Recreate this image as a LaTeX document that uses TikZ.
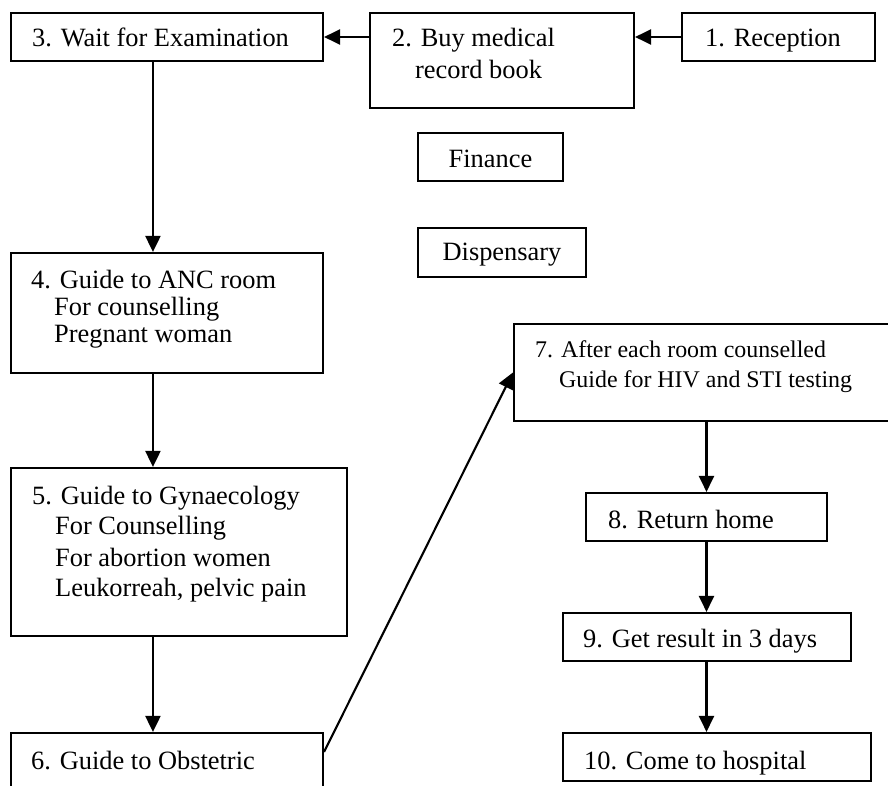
\documentclass[tikz,border=0pt]{standalone}
\usepackage{fontspec}
\setmainfont{Liberation Serif}
\usetikzlibrary{arrows.meta}

\tikzset{
  box/.style={draw, rectangle, line width=2.1bp, inner sep=0pt},
  lbl/.style={anchor=base west, inner sep=0pt, font=\fontsize{26.5pt}{30pt}\selectfont},
  lblsm/.style={lbl, font=\fontsize{24pt}{28pt}\selectfont},
  lblc/.style={lbl, anchor=base},
  arr/.style={line width=2.1bp, -{Triangle[length=16bp,width=15bp]}},
}

% rectangle given by its corners (x1,y1) and (x2,y2)
\newcommand{\flowbox}[5]{%
  \node[box, minimum width={(#4-#2)*1bp}, minimum height={(#5-#3)*1bp}]
    (#1) at ({(#2+#4)/2},{(#3+#5)/2}) {};}

\begin{document}
\begin{tikzpicture}[x=1bp,y=-1bp]
\useasboundingbox (0,0) rectangle (888,786);
\clip (0,0) rectangle (888,786);

% boxes
\flowbox{b1}{682}{13}{875}{61}
\flowbox{b2}{370}{13}{634}{108}
\flowbox{b3}{11}{13}{323}{61}
\flowbox{fin}{418}{133}{563}{181}
\flowbox{disp}{418}{228}{586}{277}
\flowbox{b4}{11}{253}{323}{373}
\flowbox{b5}{11}{468}{347}{636}
\flowbox{b6}{11}{733}{323}{810}
\flowbox{b7}{514}{324}{900}{421}
\flowbox{b8}{586}{493}{827}{541}
\flowbox{b9}{563}{613}{851}{661}
\flowbox{b10}{563}{733}{871}{781}

% texts
\node[lbl] (t1) at (705,47) {1. Reception};
\node[lbl] (t2a) at (392,47) {2. Buy medical};
\node[lbl] (t2b) at (415,79) {record book};
\node[lbl] (t3) at (32,47) {3. Wait for Examination};
\node[lblc] (tf) at (490.5,167) {Finance};
\node[lblc] (td) at (502,260) {Dispensary};
\node[lbl] (t4a) at (31,288) {4. Guide to ANC room};
\node[lbl] (t4b) at (54,315) {For counselling};
\node[lbl] (t4c) at (54,342) {Pregnant woman};
\node[lbl] (t5a) at (32,504) {5. Guide to Gynaecology};
\node[lbl] (t5b) at (55,534) {For Counselling};
\node[lbl] (t5c) at (55,566) {For abortion women};
\node[lbl] (t5d) at (55,596) {Leukorreah, pelvic pain};
\node[lbl] (t6) at (31,769) {6. Guide to Obstetric};
\node[lblsm] (t7a) at (535,357) {7. After each room counselled};
\node[lblsm] (t7b) at (559,387) {Guide for HIV and STI testing};
\node[lbl] (t8) at (608,528) {8. Return home};
\node[lbl] (t9) at (583,647) {9. Get result in 3 days};
\node[lbl] (t10) at (584,769) {10. Come to hospital};

% connectors
\draw[arr] (b1.west) -- (b1.west -| b2.east);
\draw[arr] (b3.east -| b2.west) -- (b3.east);

\coordinate (s3) at ([xshift=143bp]b3.south west);
\coordinate (s4) at ([xshift=143bp]b4.south west);
\coordinate (s5) at ([xshift=143bp]b5.south west);
\draw[arr] (s3) -- (s3 |- b4.north);
\draw[arr] (s4) -- (s4 |- b5.north);
\draw[arr] (s5) -- (s5 |- b6.north);

\coordinate (s6) at ([yshift=-20bp]b6.north east);
\draw[arr] (s6) -- (b7.west);

\draw[arr] (b7.south -| b8.north) -- (b8.north);
\draw[arr] (b8.south) -- (b8.south |- b9.north);
\draw[arr] (b8.south |- b9.south) -- (b8.south |- b10.north);
\end{tikzpicture}
\end{document}
